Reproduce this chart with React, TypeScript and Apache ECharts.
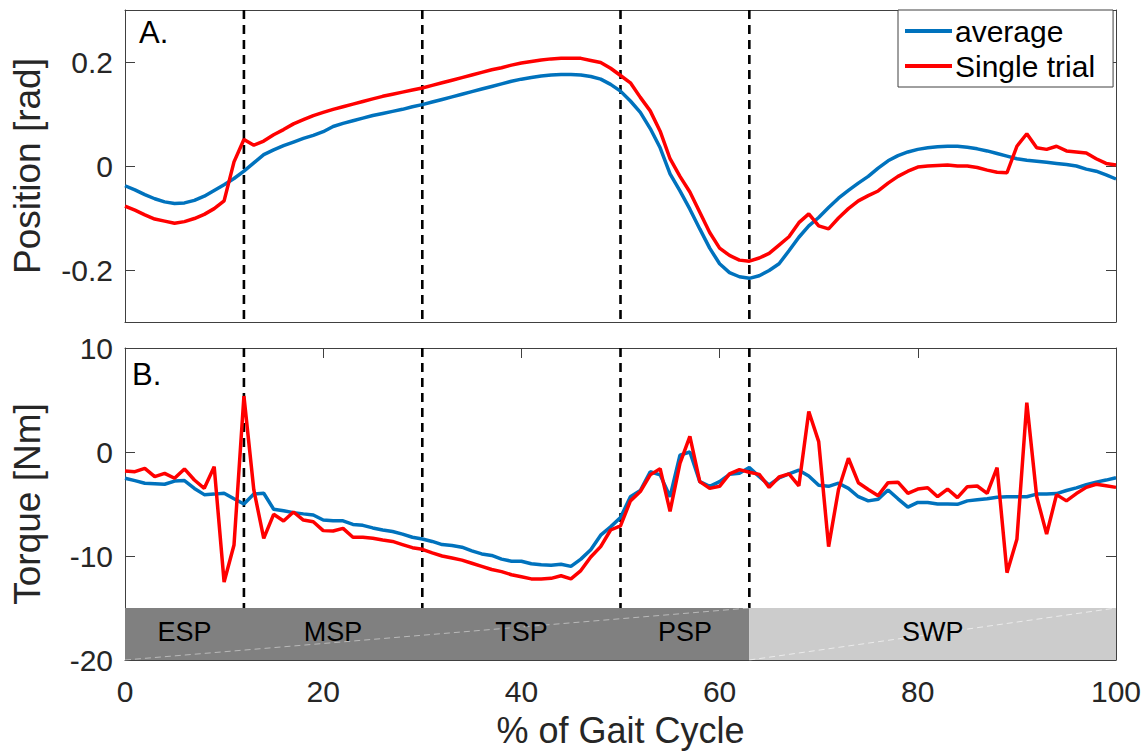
import React, { useEffect, useRef } from "react";
import * as echarts from "echarts";

// x samples: % of gait cycle
const gaitPct: number[] = Array.from({ length: 101 }, (_, i) => i);

const positionAverage: number[] = [
  -0.038, -0.046, -0.055, -0.063, -0.069, -0.072, -0.071, -0.066, -0.058, -0.047,
  -0.036, -0.024, -0.010, 0.006, 0.022, 0.031, 0.039, 0.046, 0.053, 0.059,
  0.066, 0.076, 0.082, 0.087, 0.092, 0.097, 0.101, 0.105, 0.109, 0.114,
  0.118, 0.123, 0.128, 0.133, 0.138, 0.143, 0.148, 0.153, 0.158, 0.163,
  0.167, 0.170, 0.173, 0.175, 0.176, 0.176, 0.175, 0.172, 0.167, 0.157,
  0.144, 0.125, 0.103, 0.072, 0.035, -0.015, -0.048, -0.083, -0.121, -0.158,
  -0.188, -0.205, -0.213, -0.216, -0.211, -0.201, -0.188, -0.163, -0.137, -0.115,
  -0.099, -0.080, -0.062, -0.047, -0.033, -0.020, -0.004, 0.010, 0.020, 0.027,
  0.032, 0.035, 0.037, 0.038, 0.038, 0.036, 0.033, 0.029, 0.024, 0.019,
  0.014, 0.011, 0.009, 0.007, 0.005, 0.003, 0.000, -0.006, -0.010, -0.017,
  -0.025,
];

const positionTrial: number[] = [
  -0.077, -0.085, -0.094, -0.102, -0.106, -0.110, -0.107, -0.101, -0.093, -0.082,
  -0.067, 0.008, 0.051, 0.040, 0.048, 0.060, 0.070, 0.081, 0.089, 0.097,
  0.103, 0.109, 0.114, 0.119, 0.124, 0.129, 0.134, 0.138, 0.142, 0.146,
  0.150, 0.155, 0.160, 0.165, 0.170, 0.175, 0.180, 0.185, 0.189, 0.194,
  0.198, 0.201, 0.204, 0.206, 0.207, 0.207, 0.207, 0.203, 0.199, 0.188,
  0.174, 0.160, 0.132, 0.106, 0.067, 0.014, -0.020, -0.050, -0.089, -0.128,
  -0.158, -0.172, -0.181, -0.183, -0.177, -0.168, -0.152, -0.136, -0.109, -0.092,
  -0.115, -0.121, -0.100, -0.082, -0.067, -0.057, -0.048, -0.033, -0.020, -0.010,
  -0.002, 0.000, 0.001, 0.002, 0.000, 0.000, -0.003, -0.008, -0.012, -0.013,
  0.038, 0.062, 0.035, 0.032, 0.038, 0.029, 0.027, 0.025, 0.014, 0.005,
  0.002,
];

const torqueAverage: number[] = [
  -2.53, -2.75, -3.0, -3.05, -3.1, -2.8, -2.75, -3.5, -4.1, -4.05,
  -3.97, -4.5, -5.0, -4.04, -3.97, -5.5, -5.65, -5.83, -5.95, -6.06,
  -6.54, -6.6, -6.62, -6.96, -7.05, -7.3, -7.5, -7.65, -7.9, -8.2,
  -8.37, -8.6, -8.9, -9.0, -9.15, -9.5, -9.8, -9.95, -10.3, -10.5,
  -10.5, -10.75, -10.85, -10.9, -10.8, -11.0, -10.3, -9.4, -8.0, -7.2,
  -6.3, -4.3, -3.7, -1.9, -2.2, -4.3, -0.3, 0.0, -2.85, -3.3,
  -2.85, -2.15, -2.05, -1.5, -2.37, -3.17, -2.5, -2.1, -1.75, -2.3,
  -3.2, -3.3, -3.0, -3.5, -4.3, -4.7, -4.55, -3.65, -4.5, -5.3,
  -4.85, -4.85, -5.0, -5.0, -5.03, -4.7, -4.6, -4.5, -4.35, -4.3,
  -4.3, -4.3, -4.05, -4.05, -4.0, -3.7, -3.45, -3.15, -2.9, -2.7,
  -2.47,
];

const torqueTrial: number[] = [
  -1.83, -1.89, -1.57, -2.37, -2.05, -2.53, -1.63, -2.69, -3.49, -1.41,
  -12.5, -8.94, 5.38, -3.65, -8.3, -5.99, -6.63, -5.77, -6.54, -6.7,
  -7.56, -7.6, -7.34, -8.2, -8.2, -8.3, -8.46, -8.6, -8.9, -9.2,
  -9.36, -9.7, -10.0, -10.2, -10.4, -10.7, -11.0, -11.3, -11.5, -11.8,
  -12.0, -12.2, -12.2, -12.15, -11.9, -12.2, -11.4, -10.1, -9.1, -7.5,
  -7.1, -4.7, -3.8, -2.2, -1.6, -5.7, -1.1, 1.5, -2.85, -3.5,
  -3.3, -2.1, -1.7, -1.95, -2.15, -3.4, -2.4, -2.1, -3.25, 3.9,
  1.0, -9.1, -3.6, -0.6, -2.95, -3.6, -4.2, -2.95, -2.9, -3.97,
  -3.56, -3.43, -4.3, -3.56, -4.39, -3.33, -3.27, -3.97, -1.5, -11.6,
  -8.4, 4.74, -4.3, -7.9, -4.1, -4.7, -4.0, -3.4, -3.1, -3.25,
  -3.4,
];

const phaseNames: string[] = ["ESP", "MSP", "TSP", "PSP", "SWP"];
const phaseStart: number[] = [0, 12, 30, 50, 63];
const phaseEnd: number[] = [12, 30, 50, 63, 100];
const phaseKind: string[] = ["stance", "stance", "stance", "stance", "swing"];
const phaseBoundaries: number[] = [12, 30, 50, 63];
const phaseBand: number[] = [-20, -15];

const positionRange: number[] = [-0.3, 0.3];
const positionTicks: number[] = [-0.2, 0, 0.2];
const torqueRange: number[] = [-20, 10];
const torqueStep = 10;
const xRange: number[] = [0, 100];
const xStep = 20;

const seriesNames = { avg: "average", trial: "Single trial" };

const FONT = "'Liberation Sans', Arial, Helvetica, sans-serif";
const AXIS_COLOR = "#404040";
const TEXT_COLOR = "#262626";
const BLUE = "#0072BD";
const RED = "#FF0000";
const kindColor: Record<string, string> = { stance: "#808080", swing: "#CCCCCC" };
const kindDiagonal: Record<string, string> = {
  stance: "rgba(255,255,255,0.45)",
  swing: "rgba(255,255,255,0.6)",
};

function buildOption(): any {
  const pairs = (ys: number[]) => gaitPct.map((x, i) => [x, ys[i]]);

  // contiguous groups of the same phase kind (stance block, swing block)
  const groups: { start: number; end: number; kind: string }[] = [];
  phaseKind.forEach((k, i) => {
    const last = groups[groups.length - 1];
    if (last && last.kind === k) last.end = phaseEnd[i];
    else groups.push({ start: phaseStart[i], end: phaseEnd[i], kind: k });
  });
  const kindList = Array.from(new Set(phaseKind));

  const tickStyle = { lineStyle: { color: AXIS_COLOR, width: 1 } };
  const axisLine = { show: true, onZero: false, lineStyle: { color: AXIS_COLOR, width: 1 } };
  const labelStyle = { color: TEXT_COLOR, fontFamily: FONT, fontSize: 30 };

  const dashedRender = (yLow: number, yHigh: number) => (params: any, api: any) => {
    const p1 = api.coord([api.value(0), yHigh]);
    const p2 = api.coord([api.value(0), yLow]);
    return {
      type: "line",
      shape: { x1: p1[0], y1: p1[1], x2: p2[0], y2: p2[1] },
      style: { stroke: "#000", lineWidth: 2.6, lineDash: [9, 6] },
    };
  };

  return {
    animation: false,
    backgroundColor: "#fff",
    textStyle: { fontFamily: FONT },
    grid: [
      { left: 125, top: 10, width: 991, height: 312, show: false },
      { left: 125, top: 348, width: 991, height: 312, show: false },
    ],
    legend: {
      data: [seriesNames.avg, seriesNames.trial],
      orient: "vertical",
      left: 898,
      top: 10,
      width: 217,
      padding: [6, 18, 6, 7],
      itemGap: 5,
      itemWidth: 47,
      itemHeight: 4,
      icon: "rect",
      backgroundColor: "#fff",
      borderColor: AXIS_COLOR,
      borderWidth: 1,
      borderRadius: 0,
      selectedMode: false,
      textStyle: { fontFamily: FONT, fontSize: 30, lineHeight: 30, color: "#000", padding: [0, 0, 0, -2] },
    },
    xAxis: [
      {
        type: "value", gridIndex: 0, position: "bottom", min: xRange[0], max: xRange[1], interval: xStep,
        axisLine, axisTick: { show: false }, axisLabel: { show: false }, splitLine: { show: false },
      },
      {
        type: "value", gridIndex: 0, position: "top", min: xRange[0], max: xRange[1], interval: xStep,
        axisLine, axisTick: { show: false }, axisLabel: { show: false }, splitLine: { show: false },
      },
      {
        type: "value", gridIndex: 1, position: "bottom", min: xRange[0], max: xRange[1], interval: xStep,
        axisLine, axisTick: { show: true, inside: true, length: 10, ...tickStyle },
        axisLabel: { ...labelStyle, margin: 16 }, splitLine: { show: false },
        name: "% of Gait Cycle", nameLocation: "middle", nameGap: 52,
        nameTextStyle: { fontFamily: FONT, fontSize: 36, color: TEXT_COLOR },
      },
      {
        type: "value", gridIndex: 1, position: "top", min: xRange[0], max: xRange[1], interval: xStep,
        axisLine, axisTick: { show: true, inside: true, length: 10, ...tickStyle },
        axisLabel: { show: false }, splitLine: { show: false },
      },
    ],
    yAxis: [
      {
        type: "value", gridIndex: 0, position: "left", min: positionRange[0], max: positionRange[1],
        axisLine,
        axisTick: { show: true, inside: true, length: 10, customValues: positionTicks, ...tickStyle },
        axisLabel: { ...labelStyle, margin: 12, customValues: positionTicks },
        splitLine: { show: false },
        name: "Position [rad]", nameLocation: "middle", nameGap: 79,
        nameTextStyle: { fontFamily: FONT, fontSize: 37, color: TEXT_COLOR },
      },
      {
        type: "value", gridIndex: 0, position: "right", min: positionRange[0], max: positionRange[1],
        axisLine,
        axisTick: { show: true, inside: true, length: 10, customValues: positionTicks, ...tickStyle },
        axisLabel: { show: false }, splitLine: { show: false },
      },
      {
        type: "value", gridIndex: 1, position: "left", min: torqueRange[0], max: torqueRange[1], interval: torqueStep,
        axisLine,
        axisTick: { show: true, inside: true, length: 10, ...tickStyle },
        axisLabel: { ...labelStyle, margin: 12 },
        splitLine: { show: false },
        name: "Torque [Nm]", nameLocation: "middle", nameGap: 79,
        nameTextStyle: { fontFamily: FONT, fontSize: 37, color: TEXT_COLOR },
      },
      {
        type: "value", gridIndex: 1, position: "right", min: torqueRange[0], max: torqueRange[1], interval: torqueStep,
        axisLine,
        axisTick: { show: true, inside: true, length: 10, ...tickStyle },
        axisLabel: { show: false }, splitLine: { show: false },
      },
    ],
    series: [
      {
        name: "boundaries-top", type: "custom", xAxisIndex: 0, yAxisIndex: 0, z: 1,
        data: phaseBoundaries.map((b) => [b]),
        renderItem: dashedRender(positionRange[0], positionRange[1]),
        silent: true,
      },
      {
        name: "boundaries-bottom", type: "custom", xAxisIndex: 2, yAxisIndex: 2, z: 1,
        data: phaseBoundaries.map((b) => [b]),
        renderItem: dashedRender(phaseBand[1], torqueRange[1]),
        silent: true,
      },
      {
        name: seriesNames.avg, type: "line", xAxisIndex: 0, yAxisIndex: 0, z: 5,
        data: pairs(positionAverage), showSymbol: false, symbol: "none",
        lineStyle: { color: BLUE, width: 3.5 }, itemStyle: { color: BLUE },
      },
      {
        name: seriesNames.trial, type: "line", xAxisIndex: 0, yAxisIndex: 0, z: 6,
        data: pairs(positionTrial), showSymbol: false, symbol: "none",
        lineStyle: { color: RED, width: 3.5 }, itemStyle: { color: RED },
      },
      {
        name: seriesNames.avg, type: "line", xAxisIndex: 2, yAxisIndex: 2, z: 5,
        data: pairs(torqueAverage), showSymbol: false, symbol: "none",
        lineStyle: { color: BLUE, width: 3.5 }, itemStyle: { color: BLUE },
      },
      {
        name: seriesNames.trial, type: "line", xAxisIndex: 2, yAxisIndex: 2, z: 6,
        data: pairs(torqueTrial), showSymbol: false, symbol: "none",
        lineStyle: { color: RED, width: 3.5 }, itemStyle: { color: RED },
      },
      {
        name: "phase-blocks", type: "custom", xAxisIndex: 2, yAxisIndex: 2, z: 8,
        data: groups.map((g) => [g.start, g.end, kindList.indexOf(g.kind)]),
        renderItem: (params: any, api: any) => {
          const kind = kindList[api.value(2)];
          const tl = api.coord([api.value(0), phaseBand[1]]);
          const br = api.coord([api.value(1), phaseBand[0]]);
          return {
            type: "group",
            children: [
              {
                type: "rect",
                shape: { x: tl[0], y: tl[1], width: br[0] - tl[0], height: br[1] - tl[1] },
                style: { fill: kindColor[kind], stroke: null },
              },
              {
                type: "line",
                shape: { x1: tl[0], y1: br[1], x2: br[0], y2: tl[1] },
                style: { stroke: kindDiagonal[kind], lineWidth: 1, lineDash: [6, 4] },
              },
            ],
          };
        },
        silent: true,
      },
      {
        name: "phase-labels", type: "custom", xAxisIndex: 2, yAxisIndex: 2, z: 9,
        data: phaseNames.map((n, i) => [phaseStart[i], phaseEnd[i], i]),
        renderItem: (params: any, api: any) => {
          const i = api.value(2);
          const tl = api.coord([api.value(0), phaseBand[1]]);
          const br = api.coord([api.value(1), phaseBand[0]]);
          return {
            type: "text",
            x: (tl[0] + br[0]) / 2,
            y: (tl[1] + br[1]) / 2 - 2,
            style: {
              text: phaseNames[i], fill: "#000", fontFamily: FONT, fontSize: 27,
              textAlign: "center", textVerticalAlign: "middle",
            },
          };
        },
        silent: true,
      },
    ],
    graphic: [
      {
        type: "text", left: 139, top: 17, z: 10,
        style: { text: "A.", fill: "#000", fontFamily: FONT, fontSize: 31 },
      },
      {
        type: "text", left: 132, top: 359, z: 10,
        style: { text: "B.", fill: "#000", fontFamily: FONT, fontSize: 31 },
      },
    ],
  };
}

export default function App() {
  const ref = useRef<HTMLDivElement>(null);
  useEffect(() => {
    if (!ref.current) return;
    const chart = echarts.init(ref.current, undefined, { renderer: "svg" });
    chart.setOption(buildOption());
    return () => chart.dispose();
  }, []);
  return (
    <div
      ref={ref}
      style={{ position: "fixed", left: 0, top: 0, width: 1148, height: 751, background: "#fff" }}
    />
  );
}
